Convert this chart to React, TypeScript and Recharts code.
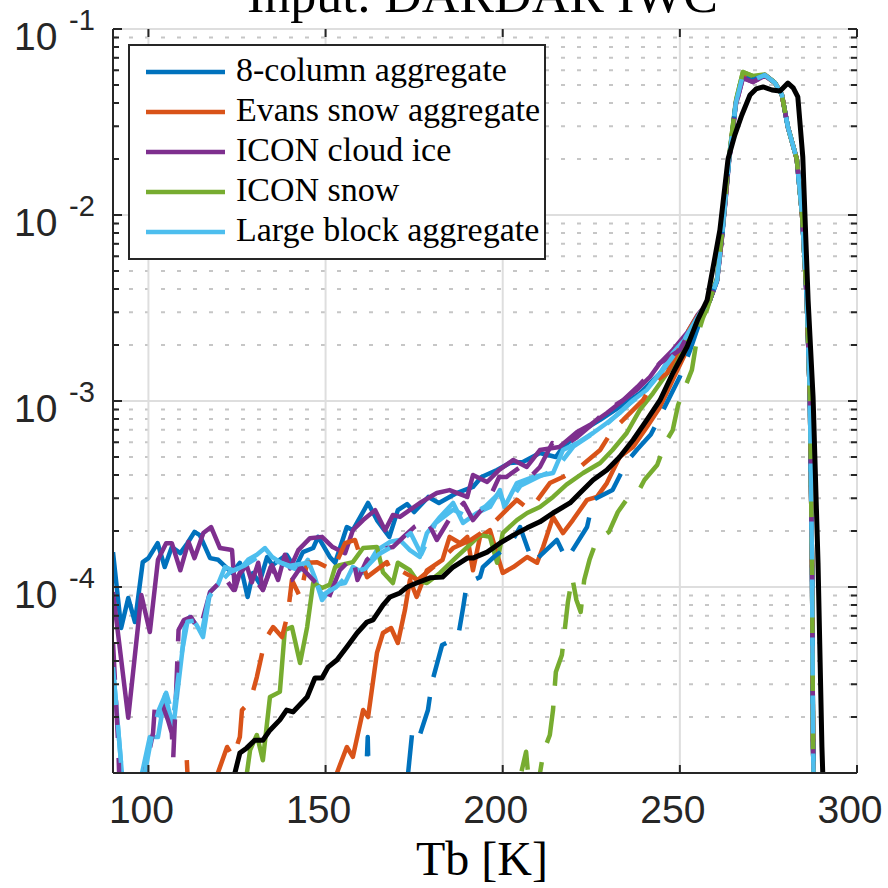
import { LineChart, Line, XAxis, YAxis, CartesianGrid, Legend } from 'recharts';

// layout of the MATLAB-style axes box (pixels)
const PLOT_LEFT = 113;
const PLOT_RIGHT = 857;
const PLOT_TOP = 29;
const PLOT_BOTTOM = 773;
const AXIS_COLOR = '#262626';
const SANS = 'Liberation Sans, Arial, Helvetica, sans-serif';
const SERIF = 'Liberation Serif, Tinos, DejaVu Serif, Noto Serif, serif';

const TITLE = 'Input: DARDAR IWC';
const X_LABEL = 'Tb [K]';

const X_TICKS = [100, 150, 200, 250, 300];
const Y_DECADES = [1e-5, 1e-4, 1e-3, 1e-2, 1e-1];
const Y_DECADE_LABELS = ['', '-4', '-3', '-2', '-1'];
const Y_MINOR = [
  2e-5, 3e-5, 4e-5, 5e-5, 6e-5, 7e-5, 8e-5, 9e-5,
  2e-4, 3e-4, 4e-4, 5e-4, 6e-4, 7e-4, 8e-4, 9e-4,
  2e-3, 3e-3, 4e-3, 5e-3, 6e-3, 7e-3, 8e-3, 9e-3,
  2e-2, 3e-2, 4e-2, 5e-2, 6e-2, 7e-2, 8e-2, 9e-2,
];

const SERIES_NAMES = ['8-column aggregate', 'Evans snow aggregate', 'ICON cloud ice', 'ICON snow', 'Large block aggregate'];
const SERIES_COLORS = ['#0072BD', '#D95319', '#7E2F8E', '#77AC30', '#4DBEEE'];

// shared main peak of the simulated curves, [Tb, pdf]
const PEAK: [number, number][] = [
  [258.5, 3.49e-3], [260.5, 4.47e-3], [262, 8.1e-3], [263.9, 2.0e-2], [265.8, 4.0e-2], [267.8, 5.66e-2],
  [270.6, 5.32e-2], [274, 5.66e-2], [276.9, 5.12e-2], [278.8, 4.42e-2], [280.5, 2.97e-2], [283, 2.0e-2],
  [284.5, 1.0e-2], [285.8, 3.62e-3], [286.7, 1.05e-3], [287.3, 1.35e-4], [287.6, 1.38e-5], [288.1, 4e-6],
];
const PEAK_SNOW: [number, number][] = [
  [258.5, 3.49e-3], [260.5, 4.6e-3], [262, 8.3e-3], [263.9, 2.05e-2], [265.8, 4.1e-2], [267.8, 5.87e-2],
  [270.6, 5.59e-2], [274, 5.7e-2], [276.9, 5.12e-2], [278.8, 4.42e-2], [280.5, 2.97e-2], [283, 2.0e-2],
  [284.5, 1.0e-2], [285.8, 3.62e-3], [286.7, 1.05e-3], [287.3, 1.35e-4], [287.6, 1.38e-5], [288.1, 4e-6],
];
const PEAK_ICE: [number, number][] = [
  [258.5, 3.49e-3], [260.5, 4.4e-3], [262, 7.9e-3], [263.9, 1.95e-2], [265.8, 3.9e-2], [267.8, 5.45e-2],
  [270.6, 5.19e-2], [274, 5.6e-2], [276.9, 5.12e-2], [278.8, 4.42e-2], [280.5, 2.97e-2], [283, 2.0e-2],
  [284.5, 1.0e-2], [285.8, 3.62e-3], [286.7, 1.05e-3], [287.3, 1.35e-4], [287.6, 1.38e-5], [288.1, 4e-6],
];

const EIGHT_COL_SOLID: [number, number][] = [
  [90, 1.54e-4], [92.3, 6.02e-5], [94.3, 8.73e-5], [96.2, 6.48e-5], [98.4, 1.36e-4], [100, 1.43e-4],
  [102.6, 1.72e-4], [104.6, 1.28e-4], [106.6, 1.64e-4], [109, 1.52e-4], [111, 1.72e-4], [113, 1.98e-4],
  [114.5, 1.9e-4], [117.4, 1.43e-4], [119.7, 1.4e-4], [123.6, 1.19e-4], [125.8, 1.35e-4], [128, 8.84e-5],
  [129.5, 1.19e-4], [131.3, 1.05e-4], [133.5, 1.45e-4], [135, 1.31e-4], [139, 1.49e-4], [141.4, 1.26e-4],
  [143.6, 1.54e-4], [146.5, 1.62e-4], [147.9, 1.86e-4], [151.2, 1.45e-4], [152.7, 1.35e-4], [156, 2.1e-4],
  [157.7, 2.02e-4], [162, 2.83e-4], [164.5, 2.29e-4], [168, 1.86e-4], [170.4, 2.59e-4], [173, 2.79e-4],
  [175, 2.53e-4], [179, 3.05e-4], [182, 2.83e-4], [187, 3.2e-4], [191.6, 3.45e-4], [194, 3.9e-4],
  [198.4, 4.26e-4], [202, 4.64e-4], [205.7, 4.7e-4], [210.5, 5.25e-4], [215, 5e-4], [217, 5.66e-4],
  [222.7, 6.98e-4], [227.5, 7.91e-4], [233, 9.29e-4], [238.7, 1.1e-3], [244.4, 1.41e-3], [250, 1.88e-3],
  [254.8, 2.72e-3],
];
const EIGHT_COL_DASHED: [number, number][] = [
  [160.8, 6e-6], [161.5, 1.0e-5], [161.9, 1.56e-5], [162.4, 6e-6], [172.6, 6e-6], [173.3, 1.0e-5],
  [174.4, 1.62e-5], [175.7, 1.77e-5], [176.6, 1.6e-5], [178.9, 2.18e-5], [180, 3.05e-5], [182.9, 4.88e-5],
  [186, 5.2e-5], [187.4, 5.38e-5], [188.8, 7.71e-5], [189.9, 1.05e-4], [193.6, 1.13e-4], [194.4, 1.28e-4],
  [197.5, 1.45e-4], [202, 1.68e-4], [204.9, 2.1e-4], [208.5, 1.35e-4], [215.3, 1.79e-4], [218, 1.4e-4],
  [223.8, 2.1e-4], [225.5, 2.94e-4], [231, 3.32e-4], [235, 4.7e-4], [238, 5.5e-4], [241.8, 6.6e-4],
  [245, 8.7e-4], [250, 1.35e-3], [253, 1.9e-3], [256, 2.8e-3],
];
const EVANS_SOLID: [number, number][] = [
  [152, 6e-6], [153.2, 1.0e-5], [156, 1.38e-5], [157.7, 1.22e-5], [160.6, 2.18e-5], [162, 2.0e-5],
  [164.5, 4.42e-5], [166.2, 5.66e-5], [168.5, 6.02e-5], [170.4, 5.0e-5], [172.4, 7.52e-5], [173.8, 1.09e-4],
  [175.7, 8.84e-5], [178.6, 1.23e-4], [183, 1.4e-4], [185, 1.86e-4], [188, 1.72e-4], [190, 1.86e-4],
  [191.6, 1.23e-4], [193.6, 1.86e-4], [196.4, 2.02e-4], [200, 1.19e-4], [203, 1.28e-4], [206.9, 1.45e-4],
  [209.7, 1.35e-4], [211.4, 1.64e-4], [214.2, 2.38e-4], [217, 1.95e-4], [219.8, 2.29e-4], [223.8, 2.94e-4],
  [226.6, 3.05e-4], [229.4, 3.62e-4], [233, 5.0e-4], [236.8, 5.66e-4], [240.7, 7.25e-4], [244.4, 9.29e-4],
  [248, 1.3e-3], [252, 1.88e-3], [255.7, 2.72e-3],
];
const EVANS_DASHED: [number, number][] = [
  [110, 6e-6], [110.8, 1.2e-5], [111.6, 6e-6], [118.8, 6e-6], [119.6, 1.0e-5], [122.2, 1.38e-5],
  [123.9, 1.22e-5], [125.8, 1.56e-5], [126.4, 2.18e-5], [128.7, 2.41e-5], [130.6, 3.28e-5], [132.9, 5.19e-5],
  [135.2, 6.09e-5], [137.7, 5.38e-5], [139.4, 7.25e-5], [140.5, 1.09e-4], [142.8, 8.84e-5], [144.8, 1.35e-4],
  [147.6, 1.36e-4], [152.1, 1.23e-4], [155.5, 1.72e-4], [158.3, 1.79e-4], [161.7, 1.13e-4], [167.3, 1.36e-4],
  [168.7, 1.19e-4], [171, 1.23e-4], [176, 1.09e-4], [181, 1.31e-4], [186, 1.62e-4], [191, 1.79e-4],
  [196, 2.08e-4], [201, 2.59e-4], [204, 2.94e-4], [207.7, 2.59e-4], [213.3, 3.62e-4], [217, 3.9e-4],
  [221.8, 4.42e-4], [227.5, 5.45e-4], [231, 6.98e-4], [234, 7.91e-4], [239.6, 1.01e-3], [242.4, 1.25e-3],
  [246.4, 1.41e-3], [252, 2.32e-3], [254.8, 2.83e-3],
];
const ICE_SOLID: [number, number][] = [
  [90, 9.4e-5], [94.3, 1.98e-5], [98, 9.06e-5], [100.4, 5.73e-5], [102.7, 1.4e-4], [105, 1.72e-4],
  [106.6, 1.72e-4], [109, 1.23e-4], [111.3, 1.75e-4], [113, 1.43e-4], [115.5, 1.95e-4], [117.7, 2.1e-4],
  [120.2, 1.62e-4], [123.6, 1.58e-4], [124.4, 9.64e-5], [125.8, 1.19e-4], [127.7, 1.31e-4], [129.2, 1.06e-4],
  [131, 1.35e-4], [132.3, 9.64e-5], [134.9, 1.31e-4], [136.6, 1.09e-4], [138.5, 1.49e-4], [140, 1.26e-4],
  [142.3, 1.58e-4], [145.6, 1.83e-4], [149, 1.86e-4], [152, 1.64e-4], [155.5, 1.52e-4], [157.7, 2.02e-4],
  [160.6, 2.29e-4], [164, 2.59e-4], [166.8, 2.02e-4], [169, 2.44e-4], [171, 2.38e-4], [176.6, 2.83e-4],
  [181.4, 3.2e-4], [185, 3.32e-4], [190, 3.05e-4], [191.6, 4.0e-4], [195.6, 3.67e-4], [199, 4.26e-4],
  [203, 4.82e-4], [206.8, 4.42e-4], [210.5, 5.45e-4], [216, 5.66e-4], [221, 6.81e-4], [224.6, 7.43e-4],
  [229.4, 8.62e-4], [234, 1.01e-3], [237.9, 1.15e-3], [241.6, 1.35e-3], [244.4, 1.6e-3], [248, 1.88e-3],
  [252, 2.32e-3], [255, 2.9e-3],
];
const ICE_DASHED: [number, number][] = [
  [90, 5.06e-5], [91.5, 1.38e-5], [92.2, 5e-6], [98, 5e-6], [99, 1.0e-5], [101.3, 1.64e-5],
  [101.8, 2.26e-5], [103.2, 2.56e-5], [105.5, 1.93e-5], [106.6, 1.64e-5], [107, 1.2e-5], [107.8, 2.69e-5],
  [108.5, 5.87e-5], [110, 6.65e-5], [112, 6.9e-5], [113.7, 6.09e-5], [114.5, 5.87e-5], [117.4, 9.4e-5],
  [119.5, 1.03e-4], [121, 1.16e-4], [124, 9.64e-5], [125, 1.13e-4], [127.3, 1.28e-4], [132.3, 9.64e-5],
  [134.5, 1.28e-4], [137, 1.09e-4], [140.5, 1.09e-4], [143, 1.28e-4], [146.5, 1.09e-4], [151, 8.84e-5],
  [154, 1.23e-4], [157.7, 1.45e-4], [159, 1.09e-4], [161.7, 1.4e-4], [164.5, 1.58e-4], [169, 1.64e-4],
  [172, 1.86e-4], [175, 2.1e-4], [178.6, 2.29e-4], [181.4, 1.79e-4], [186, 2.5e-4], [189, 2.83e-4],
  [191.6, 2.29e-4], [195.6, 2.83e-4], [199, 3.9e-4], [201, 3.9e-4], [205, 4.42e-4], [207.7, 3.9e-4],
  [210.5, 4.42e-4], [214, 5.94e-4], [217, 5.66e-4], [221, 6.4e-4], [225, 7.43e-4], [229.4, 8.95e-4],
  [234, 1.01e-3], [238, 1.19e-3], [244.4, 1.6e-3], [250, 1.88e-3], [255, 2.83e-3],
];
const SNOW_SOLID: [number, number][] = [
  [126.5, 5e-6], [127.8, 1.0e-5], [128.7, 1.33e-5], [130.6, 1.6e-5], [132.3, 1.17e-5], [134.3, 2.56e-5],
  [137.1, 2.73e-5], [138.5, 5.87e-5], [140.5, 6.09e-5], [142.8, 3.9e-5], [144.8, 6.09e-5], [146.5, 1.05e-4],
  [149, 9.88e-5], [151.2, 1.03e-4], [152.7, 1.28e-4], [154, 1.31e-4], [157.7, 1.36e-4], [160.6, 1.62e-4],
  [164.5, 1.64e-4], [166.2, 1.2e-4], [169, 1.05e-4], [170.4, 1.35e-4], [173.8, 1.23e-4], [175.7, 1.09e-4],
  [178.6, 1.05e-4], [182.3, 1.19e-4], [187, 1.45e-4], [190, 1.64e-4], [193.6, 1.9e-4], [196.4, 1.86e-4],
  [198.4, 1.35e-4], [200, 1.95e-4], [204, 2.29e-4], [206.9, 2.5e-4], [210.5, 2.69e-4], [214.2, 3.05e-4],
  [218, 3.55e-4], [222.7, 4.1e-4], [227.5, 4.64e-4], [231, 5.45e-4], [235, 6.73e-4], [238.7, 8.95e-4],
  [242.4, 1.1e-3], [246.4, 1.41e-3], [250, 1.81e-3], [253.7, 2.32e-3], [257.6, 3.08e-3],
];
const SNOW_DASHED: [number, number][] = [
  [204, 5e-6], [205.2, 1.0e-5], [206.6, 1.3e-5], [207.6, 8e-6], [209.7, 8e-6], [211.5, 1.3e-5],
  [213.3, 1.6e-5], [214.2, 2.18e-5], [215, 3.49e-5], [216.7, 4.31e-5], [217.6, 6.09e-5], [218.4, 8.3e-5],
  [219.6, 1.13e-4], [220.8, 8.51e-5], [222, 7.34e-5], [223, 1.09e-4], [224.5, 1.4e-4], [226, 1.68e-4],
  [227.5, 1.83e-4], [230, 1.98e-4], [232.5, 2.53e-4], [235.5, 3.05e-4], [238.5, 3.32e-4], [240, 3.76e-4],
  [243.6, 4.53e-4], [246, 6.02e-4], [248, 6.98e-4], [249.5, 9.52e-4], [253.4, 1.47e-3], [255, 2.26e-3],
  [256.5, 2.79e-3],
];
const BLOCK_SOLID: [number, number][] = [
  [90, 3.71e-5], [92.5, 1.0e-5], [94, 5e-6], [96.5, 5e-6], [98.2, 1.0e-5], [100.4, 1.56e-5],
  [102.7, 1.56e-5], [104.7, 2.63e-5], [107, 1.75e-5], [109.5, 4.42e-5], [110.3, 6.25e-5], [111.7, 6.9e-5],
  [113.6, 6.25e-5], [115.4, 5.38e-5], [117.4, 9.4e-5], [119.6, 1.03e-4], [121.6, 1.28e-4], [123.9, 1.23e-4],
  [126.4, 1.28e-4], [128.1, 1.4e-4], [130.6, 1.49e-4], [132.9, 1.62e-4], [134.9, 1.45e-4], [137.1, 1.36e-4],
  [140, 1.28e-4], [142.8, 1.23e-4], [145, 1.4e-4], [147, 1.12e-4], [149, 8.51e-5], [151.2, 9.64e-5],
  [153.2, 1.03e-4], [155.5, 1.05e-4], [157.7, 1.28e-4], [160.6, 1.19e-4], [164.5, 1.58e-4], [168.2, 1.75e-4],
  [171, 1.79e-4], [173.8, 1.58e-4], [176.6, 1.45e-4], [178.6, 1.95e-4], [182.3, 2.38e-4], [186, 2.83e-4],
  [188.8, 2.21e-4], [192.7, 2.5e-4], [196.4, 2.69e-4], [199.2, 3.32e-4], [200.5, 2.69e-4], [204, 3.62e-4],
  [208.5, 3.9e-4], [214.2, 4.1e-4], [217, 5.45e-4], [221, 5.94e-4], [225.5, 6.73e-4], [229.4, 7.62e-4],
  [233, 8.62e-4], [236.8, 1.01e-3], [240.7, 1.15e-3], [244.4, 1.41e-3], [248, 1.81e-3], [252, 2.21e-3],
  [255.7, 2.97e-3],
];
const BLOCK_DASHED: [number, number][] = [
  [90, 3.71e-5], [92.5, 1.0e-5], [93.5, 5e-6], [97.5, 5e-6], [99, 1.0e-5], [101, 1.6e-5],
  [103, 2.2e-5], [105, 2.7e-5], [107, 2.0e-5], [109, 4.0e-5], [111, 6.5e-5], [113, 6.6e-5],
  [115, 5.6e-5], [117, 8.8e-5], [120, 1.05e-4], [123, 1.2e-4], [127, 1.3e-4], [131, 1.45e-4],
  [135, 1.4e-4], [140, 1.3e-4], [145, 1.35e-4], [149, 9.0e-5], [153, 1.0e-4], [157, 1.2e-4],
  [161, 1.25e-4], [165, 1.5e-4], [170, 1.7e-4], [174, 1.95e-4], [177, 1.5e-4], [181, 2.2e-4],
  [186, 2.6e-4], [190, 2.4e-4], [195, 2.7e-4], [199, 3.2e-4], [201, 2.7e-4], [205, 3.5e-4],
  [210, 3.9e-4], [215, 4.3e-4], [220, 5.7e-4], [225, 6.6e-4], [230, 7.7e-4], [235, 9.4e-4],
  [240, 1.12e-3], [245, 1.45e-3], [250, 1.95e-3], [255.7, 2.97e-3],
];
const DARDAR: [number, number][] = [
  [123.5, 5e-6], [124.4, 1.0e-5], [125.8, 1.28e-5], [127.7, 1.36e-5], [130, 1.5e-5], [132.3, 1.5e-5],
  [134.3, 1.7e-5], [137.1, 1.93e-5], [139, 2.18e-5], [140.8, 2.13e-5], [144.8, 2.56e-5], [147, 3.24e-5],
  [149, 3.24e-5], [150.7, 3.71e-5], [153.2, 4.05e-5], [156, 4.76e-5], [158.9, 5.66e-5], [161.7, 6.48e-5],
  [163.4, 6.65e-5], [166.2, 8.0e-5], [168.2, 8.84e-5], [171, 9.29e-5], [173, 1.0e-4], [175.7, 1.05e-4],
  [179.5, 1.12e-4], [183, 1.13e-4], [186, 1.28e-4], [190, 1.43e-4], [191.6, 1.43e-4], [195.6, 1.54e-4],
  [199.2, 1.72e-4], [203, 1.9e-4], [206.9, 2.08e-4], [210.5, 2.24e-4], [214.2, 2.5e-4], [219, 2.83e-4],
  [221.8, 3.2e-4], [225.5, 3.76e-4], [229.4, 4.26e-4], [233, 5.0e-4], [236.8, 6.17e-4], [240.7, 7.91e-4],
  [244.4, 1.01e-3], [248, 1.41e-3], [252, 1.95e-3], [255, 2.72e-3], [257.7, 3.49e-3], [261.3, 8.3e-3],
  [263.6, 2.0e-2], [265.5, 2.69e-2], [267.5, 3.45e-2], [269.8, 4.42e-2], [271.5, 4.76e-2], [273.5, 4.88e-2],
  [276, 4.7e-2], [278.3, 4.64e-2], [280.5, 5.12e-2], [282, 4.82e-2], [283.3, 4.31e-2], [284.7, 2.05e-2],
  [286.2, 3.49e-3], [287.6, 1.05e-3], [289, 1.35e-4], [290.1, 1.38e-5], [291, 4e-6],
];

const rows = (pts: [number, number][]) => pts.map(([t, v]) => ({ t, v }));

// drawing order roughly as in the original figure, black observations on top
const SERIES = [
  { id: 'c8s', name: SERIES_NAMES[0], color: SERIES_COLORS[0], dashed: false, pts: [...EIGHT_COL_SOLID, ...PEAK] },
  { id: 'evs', name: SERIES_NAMES[1], color: SERIES_COLORS[1], dashed: false, pts: [...EVANS_SOLID, ...PEAK] },
  { id: 'ics', name: SERIES_NAMES[2], color: SERIES_COLORS[2], dashed: false, pts: [...ICE_SOLID, ...PEAK_ICE] },
  { id: 'lbs', name: SERIES_NAMES[4], color: SERIES_COLORS[4], dashed: false, pts: [...BLOCK_SOLID, ...PEAK] },
  { id: 'sns', name: SERIES_NAMES[3], color: SERIES_COLORS[3], dashed: false, pts: [...SNOW_SOLID, ...PEAK_SNOW] },
  { id: 'c8d', name: SERIES_NAMES[0], color: SERIES_COLORS[0], dashed: true, pts: [...EIGHT_COL_DASHED, ...PEAK] },
  { id: 'evd', name: SERIES_NAMES[1], color: SERIES_COLORS[1], dashed: true, pts: [...EVANS_DASHED, ...PEAK] },
  { id: 'icd', name: SERIES_NAMES[2], color: SERIES_COLORS[2], dashed: true, pts: [...ICE_DASHED, ...PEAK_ICE] },
  { id: 'snd', name: SERIES_NAMES[3], color: SERIES_COLORS[3], dashed: true, pts: [...SNOW_DASHED, ...PEAK_SNOW] },
  { id: 'lbd', name: SERIES_NAMES[4], color: SERIES_COLORS[4], dashed: true, pts: [...BLOCK_DASHED, ...PEAK] },
];

function XTick(props: any) {
  const x = props.payload.coordinate;
  return (
    <g>
      <line x1={x} x2={x} y1={PLOT_BOTTOM} y2={PLOT_BOTTOM - 8} stroke={AXIS_COLOR} strokeWidth={2} />
      <line x1={x} x2={x} y1={PLOT_TOP} y2={PLOT_TOP + 8} stroke={AXIS_COLOR} strokeWidth={2} />
      <text x={x - 7} y={823} textAnchor="middle" fontSize={39} style={{ fontFamily: SANS }} fill={AXIS_COLOR}>
        {props.payload.value}
      </text>
    </g>
  );
}

function YTick(props: any) {
  const y = props.payload.coordinate;
  const di = Y_DECADES.indexOf(props.payload.value);
  const len = di >= 0 ? 9 : 6;
  const sup = di >= 0 ? Y_DECADE_LABELS[di] : '';
  return (
    <g>
      <line x1={PLOT_LEFT} x2={PLOT_LEFT + len} y1={y} y2={y} stroke={AXIS_COLOR} strokeWidth={2} />
      <line x1={PLOT_RIGHT} x2={PLOT_RIGHT - len} y1={y} y2={y} stroke={AXIS_COLOR} strokeWidth={2} />
      {sup && (
        <g style={{ fontFamily: SANS }} fill={AXIS_COLOR}>
          <text x={14} y={y + 21} fontSize={39}>10</text>
          <text x={69} y={y + 1} fontSize={29}>{sup}</text>
        </g>
      )}
    </g>
  );
}

function LegendBox() {
  return (
    <svg width={420} height={218} style={{ display: 'block' }}>
      <rect x={1} y={1} width={416} height={214} fill="#fff" stroke={AXIS_COLOR} strokeWidth={2} />
      {SERIES_NAMES.map((name, i) => (
        <g key={name}>
          <line x1={18} x2={97} y1={28 + 40 * i} y2={28 + 40 * i} stroke={SERIES_COLORS[i]} strokeWidth={4.5} />
          <text x={108} y={37 + 40 * i} style={{ fontFamily: SERIF }} fontSize={34} fill="#000">{name}</text>
        </g>
      ))}
    </svg>
  );
}

export default function App() {
  const allY = [...Y_DECADES, ...Y_MINOR];
  return (
    <div style={{ position: 'absolute', left: 0, top: 0, width: 888, height: 888, background: '#fff' }}>
      <LineChart width={888} height={888} margin={{ top: PLOT_TOP, right: 888 - PLOT_RIGHT, bottom: 0, left: 0 }}>
        <CartesianGrid horizontalValues={Y_MINOR} vertical={false} stroke="#c6c6c6" strokeWidth={2} strokeDasharray="4 12" />
        <CartesianGrid horizontalValues={Y_DECADES} verticalValues={X_TICKS} stroke="#dedede" strokeWidth={2} />
        {SERIES.map((s) => (
          <Line
            key={s.id}
            data={rows(s.pts)}
            dataKey="v"
            name={s.name}
            type="linear"
            stroke={s.color}
            strokeWidth={4.5}
            strokeDasharray={s.dashed ? '38 20' : undefined}
            strokeLinejoin="round"
            dot={false}
            activeDot={false}
            legendType="none"
            isAnimationActive={false}
          />
        ))}
        <Line
          data={rows(DARDAR)}
          dataKey="v"
          name="DARDAR"
          type="linear"
          stroke="#000"
          strokeWidth={5}
          strokeLinejoin="round"
          dot={false}
          activeDot={false}
          legendType="none"
          isAnimationActive={false}
        />
        <XAxis
          dataKey="t"
          type="number"
          domain={[90, 300]}
          ticks={X_TICKS}
          interval={0}
          allowDataOverflow
          height={888 - PLOT_BOTTOM}
          tickLine={false}
          axisLine={{ stroke: AXIS_COLOR, strokeWidth: 2 }}
          tick={XTick}
          label={{
            content: () => (
              <text x={482} y={875} textAnchor="middle" fontSize={48} style={{ fontFamily: SERIF }} fill="#000">{X_LABEL}</text>
            ),
          }}
        />
        <XAxis
          xAxisId="top"
          orientation="top"
          type="number"
          domain={[90, 300]}
          allowDataOverflow
          height={0}
          tick={false}
          tickLine={false}
          axisLine={{ stroke: AXIS_COLOR, strokeWidth: 2 }}
        />
        <YAxis
          scale="log"
          type="number"
          domain={[1e-5, 1e-1]}
          ticks={allY}
          interval={0}
          allowDataOverflow
          width={PLOT_LEFT}
          tickLine={false}
          axisLine={{ stroke: AXIS_COLOR, strokeWidth: 2 }}
          tick={YTick}
        />
        <YAxis
          yAxisId="right"
          orientation="right"
          scale="log"
          type="number"
          domain={[1e-5, 1e-1]}
          allowDataOverflow
          width={0}
          tick={false}
          tickLine={false}
          axisLine={{ stroke: AXIS_COLOR, strokeWidth: 2 }}
        />
        <Legend
          layout="vertical"
          align="center"
          verticalAlign="middle"
          wrapperStyle={{ left: 128, top: 44, width: 420, height: 218 }}
          content={() => <LegendBox />}
        />
      </LineChart>
      {/* title sits mostly above the page edge, as in the cropped original */}
      <svg width={888} height={40} style={{ position: 'absolute', left: 0, top: 0, pointerEvents: 'none' }}>
        <text x={247} y={12} fontSize={50} style={{ fontFamily: SERIF }} fill="#000" textLength={471} lengthAdjust="spacingAndGlyphs">
          {TITLE}
        </text>
      </svg>
    </div>
  );
}
